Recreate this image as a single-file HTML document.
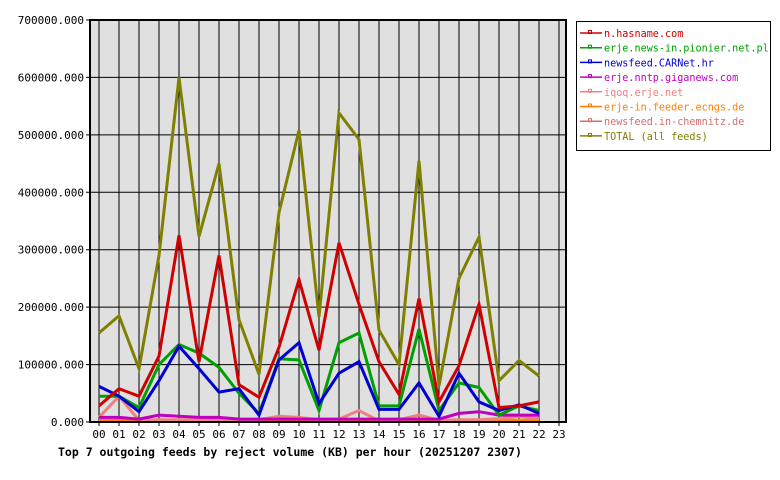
<!DOCTYPE html>
<html><head><meta charset="utf-8"><style>
body{margin:0;background:#fff;}
svg{display:block;font-family:"DejaVu Sans Mono","Liberation Mono",monospace;}
</style></head><body>
<svg id="s" width="780" height="480" xmlns="http://www.w3.org/2000/svg">
<rect x="0" y="0" width="780" height="480" fill="#fff"/>
<rect x="90" y="20" width="476" height="402" fill="#e0e0e0"/>
<g id="grid" stroke="#000" stroke-width="1"></g>
<g id="series" fill="none" stroke-width="3" stroke-linejoin="miter"></g>
<rect x="90" y="20" width="476" height="402" fill="none" stroke="#000" stroke-width="2"/>
<g id="labels" font-size="11" fill="#000"></g>
<text x="58" y="456" font-size="11.5" font-weight="bold">Top 7 outgoing feeds by reject volume (KB) per hour (20251207 2307)</text>
<rect x="576.5" y="21.5" width="194" height="129" fill="#fff" stroke="#000"/>
<g id="legend" font-size="10.2"></g>
</svg>
<script>
const ns="http://www.w3.org/2000/svg";
const X=h=>99+20*h, Y=v=>422-v*0.5743;
const grid=document.getElementById('grid'), lab=document.getElementById('labels');
function el(p,t,a,txt){const e=document.createElementNS(ns,t);for(const k in a)e.setAttribute(k,a[k]);if(txt!=null)e.textContent=txt;p.appendChild(e);return e;}
for(let i=0;i<=7;i++){const y=Y(i*100);el(grid,'line',{x1:86,x2:566,y1:y,y2:y});el(lab,'text',{x:84,y:y+4,'text-anchor':'end'},(i*100000)+'.000');}
for(let h=0;h<24;h++){const x=X(h);el(grid,'line',{x1:x,x2:x,y1:20,y2:426});el(lab,'text',{x:x,y:438,'text-anchor':'middle'},String(h).padStart(2,'0'));}
const S=[
['#d07070','newsfeed.in-chemnitz.de',[2,2,2,2,2,2,2,2,2,2,2,2,2,2,2,2,2,2,2,2,2,2,2],6],
['#ff8000','erje-in.feeder.ecngs.de',[3,3,3,3,3,3,3,3,3,3,3,3,3,3,3,3,3,3,3,3,3,3,3],5],
['#f08080','iqoq.erje.net',[8,45,3,4,4,4,4,4,4,10,8,4,5,20,2,4,12,3,4,4,6,10,6],4],
['#c000c0','erje.nntp.giganews.com',[8,8,5,12,10,8,8,5,5,5,5,5,5,5,5,5,5,5,15,18,12,12,12],3],
['#00a000','erje.news-in.pionier.net.pl',[45,45,25,100,135,120,95,50,15,110,108,20,138,155,28,28,162,20,68,60,12,28,20],1],
['#0000d0','newsfeed.CARNet.hr',[62,45,18,72,132,93,52,58,12,108,138,32,85,105,22,22,68,10,85,35,20,30,15],2],
['#d00000','n.hasname.com',[28,58,45,115,325,105,290,65,43,130,248,125,312,205,105,48,215,35,98,205,25,28,35],0],
['#808000','TOTAL (all feeds)',[155,185,93,290,600,323,450,178,83,365,508,183,538,492,160,100,455,63,250,322,72,107,80],7]
];
const g=document.getElementById('series'), lg=document.getElementById('legend');
S.forEach(([c,n,d,i])=>{
 el(g,'polyline',{stroke:c,points:d.map((v,h)=>X(h)+','+Y(v).toFixed(1)).join(' ')});
 const y=33+i*14.7;
 el(lg,'line',{x1:580,x2:602,y1:y,y2:y,stroke:c,'stroke-width':1.5});
 el(lg,'rect',{x:588.5,y:y-2.5,width:3,height:3,fill:'none',stroke:c});
 el(lg,'text',{x:604,y:y+4,fill:c,textLength:(n.length*6.1).toFixed(1),lengthAdjust:'spacingAndGlyphs'},n);
});
</script>
</body></html>
